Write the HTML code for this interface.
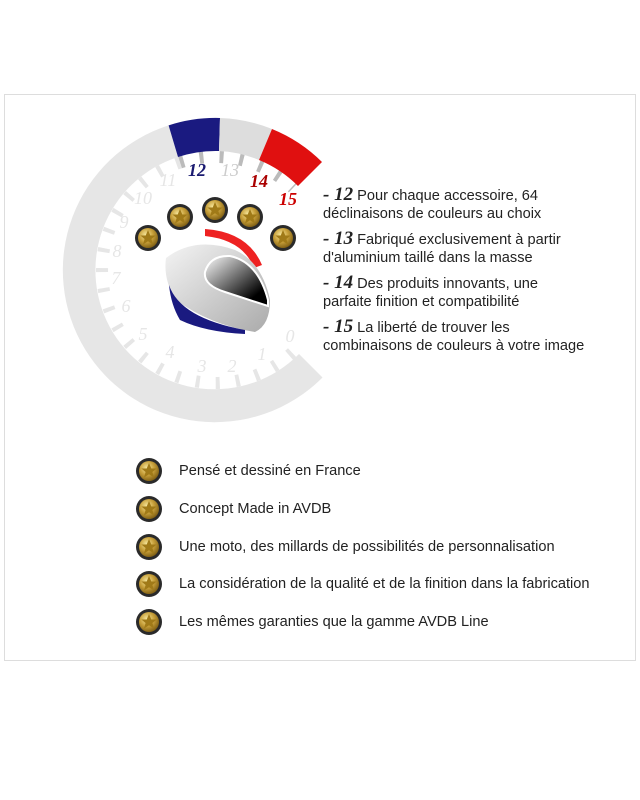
<!DOCTYPE html>
<html><head><meta charset="utf-8"><style>
body{margin:0;width:640px;height:800px;background:#fff;position:relative;font-family:"Liberation Sans",sans-serif;overflow:hidden}
.box{position:absolute;left:4px;top:94px;width:630px;height:565px;border:1px solid #ddd}
.t{position:absolute;left:323px;font-size:14.6px;color:#222;line-height:18px;white-space:nowrap}
.t b{font-family:"Liberation Serif",serif;font-style:italic;font-size:19px;font-weight:bold}
.l{position:absolute;left:179px;font-size:14.6px;color:#222;white-space:nowrap}
</style></head><body>
<div class="box"></div>
<svg width="640" height="800" style="position:absolute;left:0;top:0">
<defs>
<radialGradient id="g" cx="40%" cy="35%" r="70%"><stop offset="0" stop-color="#f7e9a0"/><stop offset=".5" stop-color="#c8a03a"/><stop offset="1" stop-color="#7a5a10"/></radialGradient>
<linearGradient id="v" x1="0" y1="0" x2="1" y2="1"><stop offset="0" stop-color="#fff"/><stop offset=".8" stop-color="#000"/></linearGradient>
<linearGradient id="h" x1="0" y1="0" x2="1" y2="1"><stop offset="0" stop-color="#f4f4f4"/><stop offset="1" stop-color="#aaa"/></linearGradient>
<g id="s"><circle r="13" fill="#2a2a2a"/><circle r="10" fill="url(#g)"/><polygon points="0,-8 2.3,-2.5 7.6,-2.5 3.4,1 5,6.5 0,3.3 -5,6.5 -3.4,1 -7.6,-2.5 -2.3,-2.5" fill="#a07a18"/></g>
</defs>
<path d="M168.6 125.4 A152 152 0 1 0 322.5 377.5 L299 354 A119 119 0 1 1 178 157 Z" fill="#e6e6e6"/>
<path d="M180.1 162.5 A113 113 0 1 0 294.9 349.9" fill="none" stroke="#e6e6e6" stroke-width="12" stroke-dasharray="4 16"/>
<path d="M180.1 162.5 A113 113 0 0 1 293 188" fill="none" stroke="#bbb" stroke-width="12" stroke-dasharray="4 16"/>
<path d="M168.6 125.4 A152 152 0 0 1 220 118 L219 151 A119 119 0 0 0 178 157Z" fill="#1a1a80"/>
<path d="M220 118 A152 152 0 0 1 272 129 L259 160 A119 119 0 0 0 219 151Z" fill="#ddd"/>
<path d="M272 129 A152 152 0 0 1 322 162 L298 186 A119 119 0 0 0 259 160Z" fill="#e01010"/>
<g fill="#e6e6e6" font-family="Liberation Serif" font-style="italic" font-size="18" text-anchor="middle">
<text x="290" y="342">0</text><text x="262" y="360">1</text><text x="232" y="372">2</text><text x="202" y="372">3</text><text x="170" y="358">4</text><text x="143" y="340">5</text><text x="126" y="312">6</text><text x="116" y="284">7</text><text x="117" y="257">8</text><text x="124" y="228">9</text><text x="143" y="204">10</text><text x="168" y="186">11</text>
<text x="197" y="176" fill="#1a1a70" font-weight="bold">12</text><text x="230" y="176" fill="#ccc">13</text><text x="259" y="187" fill="#a00" font-weight="bold">14</text><text x="288" y="205" fill="#c00" font-weight="bold">15</text></g>
<use href="#s" x="148" y="238"/><use href="#s" x="180" y="217"/><use href="#s" x="215" y="210"/><use href="#s" x="250" y="217"/><use href="#s" x="283" y="238"/>
<path d="M205 229 Q248 232 262 265 L254 268 Q243 240 205 236Z" fill="#e22"/>
<path d="M166 258 Q195 236 235 250 Q262 262 270 300 Q270 325 255 332 Q210 325 176 300 Q163 280 166 258Z" fill="url(#h)"/>
<path d="M205 272 Q210 255 230 256 Q258 262 268 300 L268 306 L225 292 Q203 285 205 272Z" fill="url(#v)" stroke="#fff" stroke-width="2"/>
<path d="M169 285 Q180 318 245 330 L245 334 Q205 332 180 320 Q171 305 169 285Z" fill="#1a1a80"/>
<use href="#s" x="149" y="471"/><use href="#s" x="149" y="509"/><use href="#s" x="149" y="547"/><use href="#s" x="149" y="584"/><use href="#s" x="149" y="622"/>
</svg>
<div class="t" style="top:186px"><b>- 12</b> Pour chaque accessoire, 64<br>déclinaisons de couleurs au choix</div>
<div class="t" style="top:230px"><b>- 13</b> Fabriqué exclusivement à partir<br>d'aluminium taillé dans la masse</div>
<div class="t" style="top:274px"><b>- 14</b> Des produits innovants, une<br>parfaite finition et compatibilité</div>
<div class="t" style="top:318px"><b>- 15</b> La liberté de trouver les<br>combinaisons de couleurs à votre image</div>
<div class="l" style="top:463px">Pensé et dessiné en France</div>
<div class="l" style="top:501px">Concept Made in AVDB</div>
<div class="l" style="top:539px">Une moto, des millards de possibilités de personnalisation</div>
<div class="l" style="top:576px">La considération de la qualité et de la finition dans la fabrication</div>
<div class="l" style="top:614px">Les mêmes garanties que la gamme AVDB Line</div>
</body></html>
